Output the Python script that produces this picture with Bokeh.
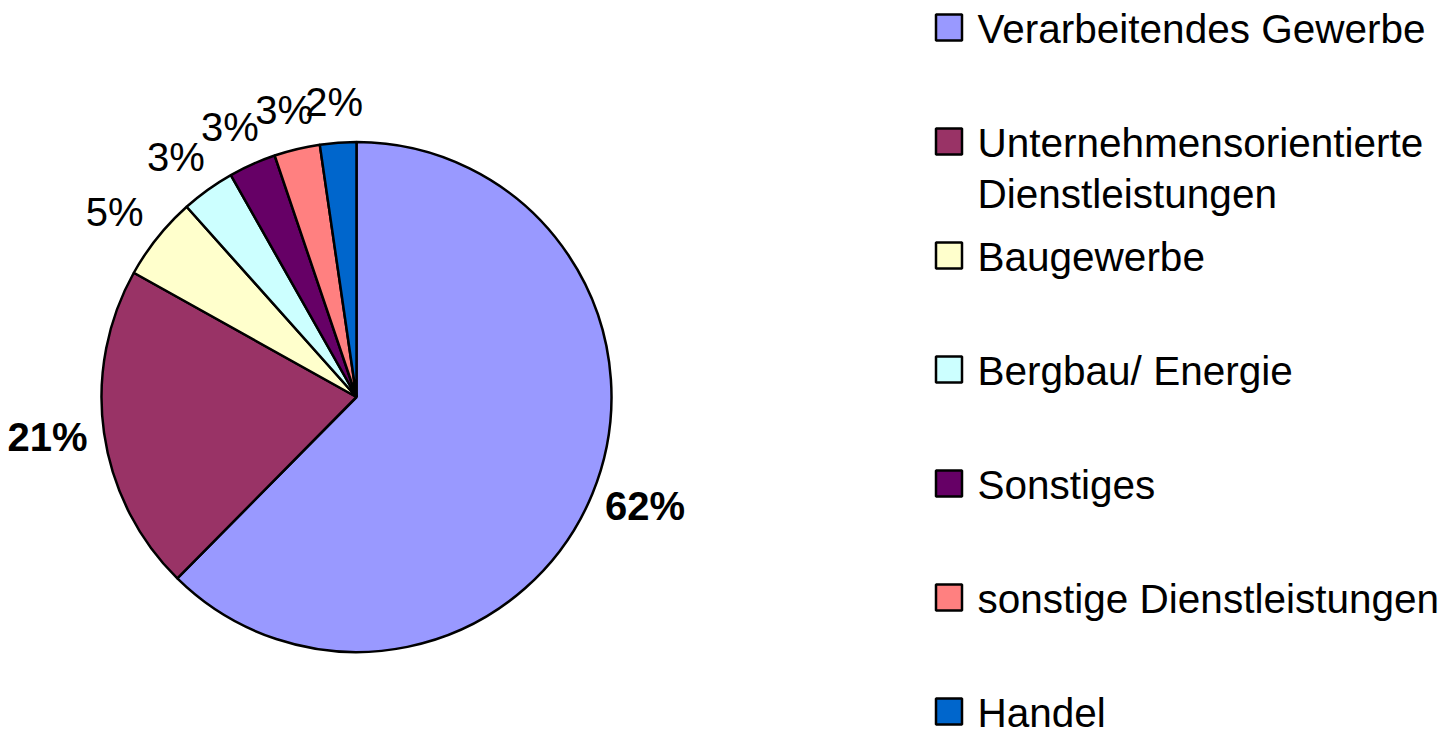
import math
from bokeh.plotting import figure
from bokeh.models import ColumnDataSource, Range1d
from bokeh.embed import file_html
from bokeh.resources import INLINE
from bokeh.core.properties import value

# ---- data ----
categories = ["Verarbeitendes Gewerbe",
              "Unternehmensorientierte\nDienstleistungen",
              "Baugewerbe",
              "Bergbau/ Energie",
              "Sonstiges",
              "sonstige Dienstleistungen",
              "Handel"]
shares = [62.4, 20.7, 5.3, 3.4, 3.0, 2.9, 2.3]
colors = ["#9999FF", "#993366", "#FFFFCC", "#CCFFFF", "#660066", "#FF8080", "#0066CC"]

# ---- layout ----
W, H = 1449, 737
FONT = "Liberation Sans"
cx, cy, R = 356, H - 396.5, 255
LABEL_PX = 40
GAP_SMALL = 26
GAP_BIG = 17

p = figure(width=W, height=H, x_range=Range1d(0, W), y_range=Range1d(0, H),
           output_backend="svg", toolbar_location=None, min_border=0,
           x_axis_location=None, y_axis_location=None)
p.grid.visible = False
p.outline_line_color = None
p.background_fill_color = "white"
p.border_fill_color = "white"

total = sum(shares)
starts, ends, mids = [], [], []
cum = 0.0
for v in shares:
    a0 = math.pi / 2 - 2 * math.pi * cum / total
    cum += v
    a1 = math.pi / 2 - 2 * math.pi * cum / total
    starts.append(a0)
    ends.append(a1)
    mids.append((a0 + a1) / 2)

src = ColumnDataSource(dict(start=starts, end=ends, color=colors, name=categories))
p.wedge(x=cx, y=cy, radius=R, start_angle="start", end_angle="end", direction="clock",
        fill_color="color", line_color="black", line_width=2.5, source=src)

# ---- percentage labels ----
labels = [f"{round(v)}%" for v in shares]
big = [v >= 20 for v in shares]
lx, ly = [], []
for lab, m, b in zip(labels, mids, big):
    dx, dy = math.cos(m), math.sin(m)
    w = (0.556 * (len(lab) - 1) + 0.889) * LABEL_PX
    h = 0.72 * LABEL_PX
    g = GAP_BIG if b else GAP_SMALL
    lx.append(cx + (R + g) * dx + dx * w / 2)
    ly.append(cy + (R + g) * dy + dy * h / 2)

bsrc = ColumnDataSource(dict(x=[x for x, b in zip(lx, big) if b],
                             y=[y for y, b in zip(ly, big) if b],
                             t=[t for t, b in zip(labels, big) if b]))
nsrc = ColumnDataSource(dict(x=[x for x, b in zip(lx, big) if not b],
                             y=[y for y, b in zip(ly, big) if not b],
                             t=[t for t, b in zip(labels, big) if not b]))
for s, style in ((bsrc, "bold"), (nsrc, "normal")):
    p.text(x="x", y="y", text="t", source=s, text_font=value(FONT),
           text_font_size=f"{LABEL_PX}px", text_font_style=style,
           text_align="center", text_baseline="middle", text_color="black")

# ---- legend (drawn by hand) ----
LEG_X_BOX = 948.5
LEG_X_TEXT = 977
LEG_FIRST = 42          # baseline of first row, px from top
LEG_STEP = 114.0
LEG_LINE = 51
LEG_PX = 40.5
BOX = 26

bx, by, tx, ty, tt = [], [], [], [], []
for i, name in enumerate(categories):
    base = LEG_FIRST + i * LEG_STEP
    bx.append(LEG_X_BOX)
    by.append(H - (base - 15))
    for j, line in enumerate(name.split("\n")):
        tx.append(LEG_X_TEXT)
        ty.append(H - (base + j * LEG_LINE - 14))
        tt.append(line)

p.rect(x=bx, y=by, width=BOX, height=BOX, fill_color=colors, line_color="black", line_width=2.5)
p.text(x=tx, y=ty, text=tt, text_font=value(FONT), text_font_size=f"{LEG_PX}px",
       text_align="left", text_baseline="middle", text_color="black")

open("out.html", "w").write(file_html(p, INLINE))
